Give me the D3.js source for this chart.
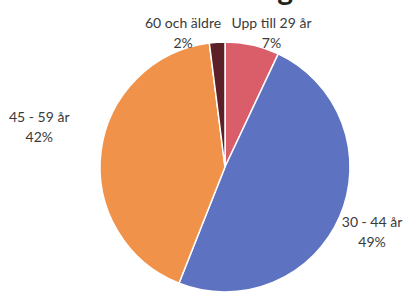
<!DOCTYPE html>
<html lang="sv">
<head>
    <meta charset="UTF-8">
    <title>Åldersfördelning</title>
    <script type="text/javascript" src="https://cdn.jsdelivr.net/npm/d3@7"></script>
    <style>
        body { margin: 0; background: #fff; }
        .labels text {
            font-family: Lato, "Open Sans", sans-serif;
            font-size: 14px;
            fill: #3a3a3a;
        }
        .title {
            font-family: Lato, sans-serif;
            font-weight: bold;
            font-size: 30px;
            fill: #222;
        }
    </style>
</head>
<body>
<svg id="chart" width="403" height="294"></svg>
<script>
    var categories = ["Upp till 29 år", "30 - 44 år", "45 - 59 år", "60 och äldre"];
    var values = [7, 49, 42, 2];
    var colors = ["#d95e69", "#5e72c2", "#f0924a", "#5c2126"];

    // nudges for the labels (Excel pushes them around a bit)
    var nudge = {
        "Upp till 29 år": [12, 15],
        "30 - 44 år": [2, -3],
        "45 - 59 år": [-29, -25],
        "60 och äldre": [-32, 19]
    };

    var svg = d3.select("svg#chart"),
        width = +svg.attr("width"),
        height = +svg.attr("height");

    var cx = 225, cy = 167, radius = 125;

    // title is cut off at the top edge, only the descenders show
    svg.append("text")
        .attr("class", "title")
        .attr("x", 293)
        .attr("y", 0)
        .attr("text-anchor", "end")
        .text("Åldersfördelning");

    var data = categories.map(function (c, i) {
        return {name: c, value: values[i], color: colors[i]};
    });

    var pie = d3.pie()
        .sort(null)
        .value(function (d) { return d.value; });

    var arc = d3.arc().innerRadius(0).outerRadius(radius);
    var labelArc = d3.arc().innerRadius(158).outerRadius(158);

    var g = svg.append("g").attr("transform", "translate(" + cx + "," + cy + ")");

    var arcs = pie(data);

    g.selectAll("path")
        .data(arcs)
        .enter()
        .append("path")
        .attr("d", arc)
        .attr("fill", function (d) { return d.data.color; })
        .attr("stroke", "#fff")
        .attr("stroke-width", 1.5);

    var total = d3.sum(values);

    var labels = g.append("g")
        .attr("class", "labels")
        .selectAll("text")
        .data(arcs)
        .enter()
        .append("text")
        .attr("text-anchor", "middle")
        .attr("transform", function (d) {
            var p = labelArc.centroid(d),
                n = nudge[d.data.name];
            return "translate(" + (p[0] + n[0]) + "," + (p[1] + n[1]) + ")";
        });

    labels.append("tspan")
        .attr("x", 0)
        .attr("y", 0)
        .text(function (d) { return d.data.name; });

    labels.append("tspan")
        .attr("x", 0)
        .attr("y", 20)
        .text(function (d) { return Math.round(d.data.value / total * 100) + "%"; });
</script>
</body>
</html>
